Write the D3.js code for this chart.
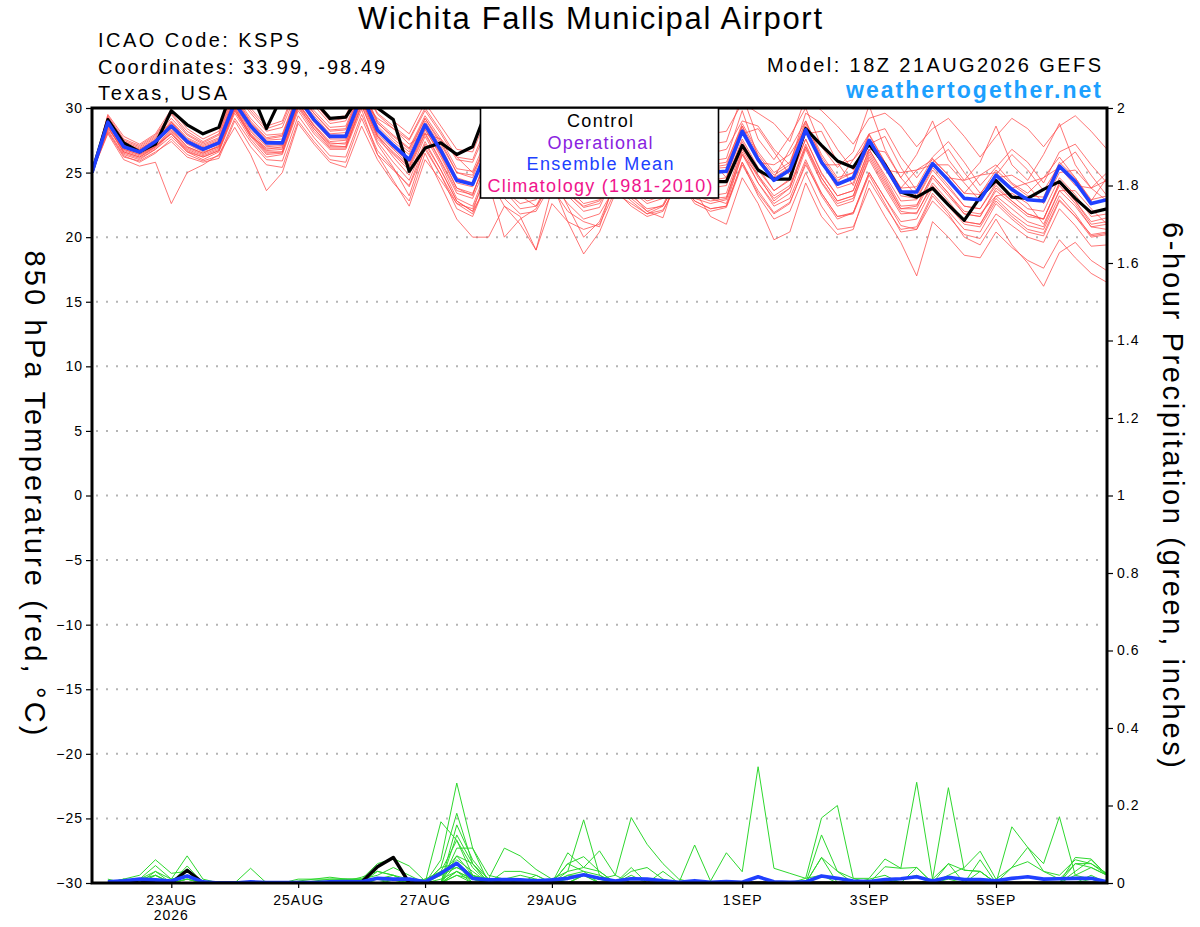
<!DOCTYPE html>
<html lang="en">
<head>
<meta charset="UTF-8">
<title>GEFS meteogram KSPS</title>
<script src="https://d3js.org/d3.v7.min.js"></script>
<style>
  body { margin: 0; background: #fff; }
  text { font-family: "Liberation Sans", Arial, Helvetica, sans-serif; }
</style>
</head>
<body>
<svg width="1200" height="927"></svg>
<script>
// run start, 6-hourly steps
var runStart = Date.UTC(2026, 7, 21, 18);
var stepHours = 6;

// tick labels
var dayTicks = [Date.UTC(2026,7,23), Date.UTC(2026,7,25), Date.UTC(2026,7,27), Date.UTC(2026,7,29),
                Date.UTC(2026,8,1), Date.UTC(2026,8,3), Date.UTC(2026,8,5)];
var tempTicks = [-30, -25, -20, -15, -10, -5, 0, 5, 10, 15, 20, 25, 30];
var precipTicks = [0, 0.2, 0.4, 0.6, 0.8, 1, 1.2, 1.4, 1.6, 1.8, 2];
var legendItems = ["Control", "Operational", "Ensemble Mean", "Climatology (1981-2010)"];

// 850 hPa temperature, control run
var controlTemp = [25.0,29.1,27.3,26.6,27.2,29.8,28.7,28.0,28.5,
  32.0,31.4,28.4,31.0,31.5,30.6,29.2,29.3,
  31.2,30.0,29.1,25.1,26.9,27.3,26.4,27.0,
  30.2,27.5,26.0,26.2,27.8,25.8,24.9,25.0,
  26.5,25.0,24.0,24.3,26.2,24.8,24.3,24.3,
  27.1,25.2,24.5,24.5,28.4,27.1,25.9,25.4,
  27.2,25.6,23.5,23.1,23.8,22.5,21.3,23.1,
  24.4,23.1,23.0,23.7,24.3,23.0,21.9,22.2];

// 850 hPa temperature, ensemble mean
var meanTemp = [25.0,28.9,27.0,26.6,27.4,28.6,27.4,26.8,27.3,
  30.4,28.6,27.3,27.3,30.8,29.1,27.8,27.8,
  31.0,28.3,27.1,26.0,28.7,26.7,24.4,24.1,
  27.0,25.5,24.5,24.8,26.8,25.2,24.3,24.6,
  26.6,25.4,24.6,24.9,26.9,25.3,25.0,25.1,
  28.2,26.0,24.4,25.2,28.3,25.8,24.1,24.6,
  27.5,25.5,23.5,23.5,25.7,24.4,23.0,22.9,
  24.8,23.7,22.9,22.8,25.5,24.3,22.6,22.9];

// 850 hPa temperature, ensemble members
var memberTemp = [
 [25.0,29.3,27.5,27.0,27.8,29.5,28.0,27.3,27.9, 31.2,29.6,28.2,28.5,31.5,30.2,28.8,29.0, 31.8,29.5,28.4,27.5,29.8,28.0,26.0,25.8, 28.6,27.0,26.0,26.4,28.2,26.8,25.9,26.3, 28.4,27.0,26.2,26.5,28.8,27.0,26.5,26.8, 29.0,28.6,26.8,25.6,29.6,28.8,26.8,25.2, 28.0,28.4,26.2,24.6,26.2,27.4,25.8,24.0, 25.4,26.8,25.8,24.2,26.6,27.2,25.6,24.2],
 [25.0,28.2,26.3,25.8,26.5,27.6,26.4,25.9,26.3, 29.2,27.4,26.0,25.9,29.4,27.7,26.3,26.2, 29.5,26.7,25.3,23.9,26.8,24.8,22.2,21.6, 24.6,23.0,21.8,22.0,24.2,22.6,21.4,21.8, 23.9,22.8,21.8,22.1,24.4,22.8,22.2,22.4, 25.8,23.6,21.9,22.7,25.6,23.4,21.6,21.9, 25.0,23.0,20.9,20.6,22.8,21.6,20.2,19.9, 21.8,20.9,20.0,19.6,22.2,20.9,19.3,19.4],
 [25.0,28.0,26.0,25.5,25.8,22.6,25.0,25.6,26.4, 28.5,26.4,23.6,25.0,28.8,27.2,25.8,25.4, 28.6,26.0,24.2,22.8,26.5,24.0,21.4,20.0, 20.0,22.4,21.6,19.0,23.8,22.0,21.2,20.8, 24.5,23.4,22.0,21.5,25.2,23.8,23.0,22.6, 26.4,24.8,22.8,23.8,27.0,24.3,22.6,23.0, 26.0,23.8,21.8,21.9,24.0,22.6,21.2,21.0, 23.0,21.8,20.9,20.6,23.2,21.8,20.1,20.3],
 [25.0,29.0,27.2,26.8,27.5,28.9,27.6,27.0,27.5, 30.8,28.9,27.6,27.8,31.2,29.6,28.2,28.3, 31.4,28.8,27.8,26.8,29.2,27.2,25.0,24.6, 27.6,26.2,25.4,25.6,27.8,26.0,25.0,25.3, 27.4,26.0,25.2,25.5,27.6,26.0,25.6,25.8, 28.6,25.8,25.6,26.4,28.4,25.6,25.6,26.0, 27.4,25.2,25.0,25.2,25.6,24.6,24.4,24.8, 25.0,23.8,24.2,24.6,25.4,24.0,23.8,24.4],
 [25.0,28.6,26.6,26.2,26.9,28.2,26.9,26.4,26.9, 30.0,28.0,26.6,26.6,30.2,28.4,27.1,27.0, 30.4,27.6,26.4,25.2,28.0,25.8,23.4,23.0, 26.0,24.6,23.6,23.8,25.8,24.2,23.4,23.6, 25.7,24.4,23.6,23.9,26.0,24.6,24.2,24.4, 27.6,25.4,23.6,24.5,27.6,24.9,23.2,23.6, 26.8,24.6,22.4,22.5,24.8,23.4,22.0,21.8, 23.2,23.4,22.6,21.0,23.6,23.6,22.2,21.0],
 [25.0,29.5,27.8,27.2,28.0,29.9,28.4,27.6,28.2, 31.6,30.0,28.6,29.0,32.0,30.6,29.2,29.4, 32.2,30.0,29.0,28.0,30.4,28.6,26.8,26.6, 29.6,28.0,27.2,27.4,29.6,28.0,27.2,27.4, 29.8,28.4,27.6,27.9,30.2,28.6,28.0,28.2, 30.4,29.6,28.8,27.4,30.8,29.8,28.6,27.2, 29.2,29.6,28.6,27.0,28.4,29.2,27.8,26.2, 27.8,29.2,28.4,27.0,28.6,29.4,28.2,26.8],
 [25.0,28.4,26.8,26.4,27.1,28.0,26.6,26.2,26.7, 29.8,27.8,26.9,26.9,30.3,28.6,27.2,27.3, 30.6,27.8,26.6,25.5,28.3,26.4,23.8,23.2, 26.8,25.2,24.0,24.3,26.4,24.7,23.6,24.0, 26.2,25.0,24.1,24.4,26.6,24.8,24.4,24.6, 28.4,26.2,24.6,25.4,28.6,25.8,23.8,24.2, 27.6,25.4,23.2,23.0,25.4,24.0,22.4,22.2, 24.0,22.8,21.8,21.4,24.0,22.6,20.8,20.6],
 [25.0,28.7,26.9,26.5,27.2,28.5,27.2,26.6,27.0, 30.2,28.3,27.0,27.1,30.6,28.9,27.6,27.6, 30.8,28.0,26.8,25.6,28.4,26.2,23.8,23.4, 26.2,24.4,23.0,23.1,25.2,23.4,22.3,22.6, 24.8,23.2,22.2,22.4,24.6,22.8,22.2,22.4, 25.8,23.2,21.4,22.0,25.0,22.4,20.6,20.8, 23.8,21.6,19.6,17.0,21.2,20.0,18.6,18.4, 20.4,19.2,18.2,17.6,19.8,18.4,17.2,16.5],
 [25.0,28.8,26.7,26.3,27.0,28.4,27.0,26.5,27.1, 30.1,28.2,26.8,27.0,30.4,28.7,27.4,27.5, 30.6,27.9,26.5,25.4,28.1,25.9,23.6,23.3, 26.4,24.8,23.8,24.0,26.0,24.4,23.5,23.7, 25.6,24.0,23.0,23.3,25.4,23.6,23.0,23.1, 26.6,24.2,22.4,23.0,26.0,23.4,21.6,21.8, 24.8,22.6,20.4,20.6,23.2,21.8,20.0,19.4, 21.4,19.4,18.0,16.2,18.8,19.6,18.2,17.4],
 [25.0,29.2,27.4,26.9,27.7,29.2,27.9,27.2,27.7, 31.0,29.2,27.9,28.0,31.3,29.8,28.5,28.6, 31.6,29.0,27.9,26.9,29.4,27.6,25.3,25.1, 28.0,26.6,25.6,25.9,28.0,26.4,25.5,25.7, 27.0,27.4,26.2,25.0,27.0,27.6,26.0,24.6, 28.0,28.4,26.6,24.8,28.0,28.2,25.8,24.0, 27.2,27.8,25.4,23.6,25.8,26.8,25.0,23.4, 24.8,26.4,25.2,23.6,25.6,26.6,24.8,23.2],
 [25.0,28.3,26.4,26.0,26.8,27.8,26.6,26.0,26.6, 29.6,27.6,26.2,26.4,29.8,28.0,26.8,26.8, 29.9,26.4,24.4,22.4,26.0,24.4,22.6,22.2, 25.2,23.6,22.6,22.9,25.0,23.2,22.0,22.3, 25.0,23.6,22.6,23.0,25.6,23.8,23.2,23.4, 27.0,24.8,23.2,24.0,27.2,24.6,22.8,23.2, 26.4,24.2,22.2,22.2,24.6,23.2,21.8,21.6, 23.6,22.6,21.6,21.4,24.2,22.8,21.2,21.5],
 [25.0,29.1,27.1,26.7,27.4,28.8,27.5,26.9,27.4, 30.6,28.7,27.4,27.4,30.9,29.2,27.9,27.9, 30.6,29.2,28.4,27.2,28.0,27.6,26.2,25.0, 27.2,25.8,24.9,25.2,27.2,25.6,24.7,25.0, 27.0,25.7,24.9,25.2,27.2,25.6,25.3,25.4, 28.6,26.4,24.8,25.6,28.8,26.2,24.4,25.0, 27.9,25.8,23.8,23.9,26.1,24.8,23.4,23.3, 25.2,24.1,23.2,23.1,25.8,24.6,22.9,23.2],
 [25.0,28.5,26.6,26.2,27.0,28.0,26.8,26.3,26.8, 29.9,27.9,26.5,26.6,30.1,28.4,27.0,27.0, 30.2,27.2,25.4,23.2,27.0,24.8,22.6,21.8, 24.6,22.4,21.0,19.0,22.6,21.2,20.6,21.0, 23.6,22.4,21.6,22.0,24.4,22.6,22.0,22.3, 25.6,23.4,21.8,22.6,25.8,23.2,21.4,21.9, 25.0,23.0,21.2,21.4,23.8,22.4,21.0,20.8, 22.8,21.6,20.6,20.3,22.9,21.6,20.2,20.4],
 [25.0,28.9,27.0,26.5,27.2,28.7,27.3,26.7,27.2, 30.4,28.5,27.1,27.2,30.7,29.0,27.7,27.8, 31.0,28.2,26.9,25.8,28.6,26.4,24.2,23.9, 26.8,24.8,23.2,22.4,24.2,21.2,18.7,20.4, 23.4,22.6,21.8,22.4,24.6,23.0,22.6,22.9, 26.4,24.2,22.6,23.4,26.8,24.2,22.4,22.8, 26.2,24.0,22.0,21.8,24.2,22.8,21.2,21.0, 23.2,22.2,21.2,20.8,23.6,22.4,20.8,21.0],
 [25.0,28.1,26.2,25.9,26.6,27.4,26.2,25.8,26.1, 29.0,27.0,25.6,25.4,29.0,27.4,26.0,25.8, 29.2,26.4,25.2,24.0,27.2,25.2,22.8,22.0, 25.4,24.0,23.2,23.3,25.4,23.8,22.6,22.9, 25.2,23.8,22.8,23.2,25.4,23.6,21.6,21.0, 24.6,22.6,19.8,20.4,24.2,21.6,20.2,20.6, 24.4,22.4,20.6,20.8,23.4,22.0,20.6,20.4, 22.6,21.4,20.4,20.1,22.8,21.6,20.0,20.2],
 [25.0,29.4,27.6,27.1,27.9,29.6,28.2,27.4,28.0, 31.4,29.8,28.4,28.8,31.8,30.4,29.0,29.2, 32.0,29.6,28.6,27.6,30.0,28.2,26.2,26.0, 29.0,27.4,26.5,26.8,28.8,27.2,26.4,26.7, 28.8,27.6,26.8,27.0,29.4,27.8,27.2,27.4, 31.0,27.6,26.0,27.8,30.0,27.0,25.4,26.6, 30.2,26.8,24.6,26.4,29.0,26.0,24.4,25.8, 28.6,25.6,24.4,26.4,28.8,25.6,23.8,25.0],
 [25.0,28.8,26.8,26.4,27.0,28.3,27.0,26.5,27.0, 30.0,28.0,26.7,26.8,30.4,28.6,27.3,27.2, 30.6,27.8,26.2,24.8,27.8,25.6,23.0,22.4, 25.6,23.6,22.2,22.4,24.8,22.4,20.0,21.2, 24.2,23.0,22.0,22.5,25.0,23.2,22.8,23.0, 26.8,24.6,23.0,23.8,27.0,24.6,22.8,23.2, 26.6,24.4,22.2,22.4,24.8,23.4,21.8,21.6, 23.8,22.8,21.8,21.4,24.2,22.8,21.0,21.2],
 [25.0,29.0,27.1,26.6,27.4,28.9,27.5,26.9,27.4, 30.7,28.8,27.5,27.6,31.0,29.4,28.0,28.1, 31.3,28.6,27.4,26.4,29.0,27.0,24.6,24.2, 27.4,26.0,25.1,25.4,27.4,25.8,24.9,25.1, 27.2,25.9,25.1,25.4,27.4,25.8,25.4,25.6, 28.8,26.6,25.0,25.8,29.0,26.4,24.6,25.0, 26.8,26.6,24.6,23.2,25.6,25.6,24.2,22.8, 24.6,24.8,24.0,22.6,25.0,25.2,23.8,22.8],
 [25.0,28.6,26.5,26.1,26.8,28.1,26.7,26.2,26.7, 29.8,27.8,26.4,26.5,30.0,28.2,26.9,26.9, 30.2,27.4,25.8,24.4,27.4,25.2,22.8,22.0, 24.2,20.0,21.4,22.2,24.6,23.4,22.4,22.8, 25.0,23.8,23.0,23.4,25.8,24.2,23.8,24.0, 27.4,25.2,23.6,24.4,27.6,25.0,23.2,23.6, 26.8,24.8,22.8,22.9,25.2,23.8,22.4,22.2, 24.2,23.2,22.2,22.0,24.6,23.3,21.6,21.8],
 [25.0,29.2,27.3,26.8,27.6,29.0,27.7,27.1,27.6, 30.9,29.0,27.7,27.9,31.1,29.6,28.3,28.4, 31.5,28.9,27.6,26.6,29.2,27.4,25.0,24.8, 27.8,26.4,25.3,25.6,27.6,26.0,25.1,25.4, 27.6,26.3,25.5,25.8,27.9,26.3,25.9,26.1, 29.8,26.2,24.6,26.8,29.0,26.0,24.2,26.0, 28.0,25.8,23.8,25.2,26.0,24.8,23.4,24.8, 25.6,24.2,23.4,24.6,26.2,24.6,22.8,24.6]
];

// 6-hour precipitation (inches), steps 1..64
var controlPrecip = [0,0,.008,0,0,.033,0,0, 0,0,0,0,0,0,0,0, .002,.042,.066,0,0,0,0,0, 0,0,0,0,0,0,0,0,
  0,0,0,0,0,0,0,0, 0,0,0,0,0,0,0,0, 0,0,0,0,0,0,0,0, 0,0,0,0,0,0,0,0];
var meanPrecip = [.003,.006,.01,.008,.005,.018,.003,0, 0,.003,.001,.001,.001,.001,.003,.004,
  .003,.012,.01,.01,.003,.025,.051,.012, .008,.009,.008,.006,.008,.012,.021,.012,
  .005,.011,.01,.006,.002,.006,.002,.004, .002,.016,.003,.002,.003,.018,.012,.005,
  .004,.009,.011,.016,.005,.015,.009,.009, .006,.012,.016,.01,.011,.012,.012,.003];
var memberPrecip = [
 [0,.01,0,.02,0,.01,0,0, 0,0,0,0,0,0,0,0, 0,.01,.02,.01,0,.03,.05,.02, 0,0,0,0,0,.01,.02,0, 0,.03,.04,.01,0,.098,.005,.078, .029,.3,.038,.025,.012,.02,0,0, 0,0,0,0,0,0,0,0, 0,0,0,0,0,0,.01,0],
 [0,.01,.02,.06,.025,.03,0,0, 0,0,0,0,.005,.01,.01,.01, .01,.02,.04,.02,0,.06,.258,.09, .02,.01,0,0,0,0,.02,.01, 0,0,0,0,0,0,0,0, 0,0,0,0,0,.066,.03,.012, .012,.062,.038,.04,0,0,0,0, 0,0,0,0,0,.02,.04,.02],
 [0,0,.01,.045,.01,.07,.01,0, 0,0,0,0,0,0,0,.005, .015,.03,.02,0,0,.04,.18,.05, 0,.03,.03,.02,0,.05,.068,.03, 0,.04,0,0,0,0,0,0, 0,0,0,0,0,0,0,0, 0,.042,.038,.26,.01,.05,.033,.03, 0,0,0,0,0,0,0,0],
 [0,0,0,.03,0,.044,0,0, 0,.038,0,0,0,0,0,0, 0,0,0,0,0,0,.15,.06, .01,.09,.07,.035,.01,0,0,0, 0,0,0,0,0,0,0,0, 0,0,0,0,0,0,0,0, 0,0,0,0,0,0,0,0, 0,0,0,0,0,0,0,0],
 [0,0,0,0,0,.02,0,0, 0,0,0,0,0,.005,.01,.01, 0,0,.01,0,0,0,.124,.05, 0,0,0,0,.01,.03,.163,.02, 0,0,0,0,0,0,0,0, 0,0,0,0,0,0,0,0, 0,0,0,0,0,0,0,0, 0,0,0,0,0,.066,.062,.02],
 [0,0,.005,0,0,.01,0,0, 0,0,0,0,0,0,0,.005, .01,.01,0,0,.01,.03,.11,.02, 0,0,0,0,0,0,.02,.01, .02,.169,.1,.05,.01,0,0,0, 0,0,0,0,0,0,0,0, 0,0,0,.04,0,0,0,0, 0,0,0,0,0,0,0,0],
 [0,0,0,0,0,0,0,0, 0,0,0,0,0,0,0,0, 0,0,0,0,0,.02,.07,.02, 0,0,0,0,0,.078,.04,.083, .02,0,0,0,0,0,0,0, 0,0,0,0,.012,.168,.2,.012, 0,0,0,0,0,0,0,0, 0,0,0,0,0,0,0,0],
 [0,0,0,0,0,0,0,0, 0,0,0,0,0,0,0,0, 0,0,0,.01,0,0,.03,0, 0,0,0,0,0,.05,.03,0, 0,0,0,0,0,0,0,0, 0,0,0,0,0,.124,.03,0, 0,0,0,0,.01,.246,.033,.03, 0,0,0,0,0,0,0,0],
 [0,0,0,0,0,0,0,0, 0,0,0,0,0,0,0,0, 0,0,0,0,0,0,.05,0, 0,0,0,0,0,0,0,0, 0,0,0,0,0,0,0,0, 0,0,0,0,0,.066,0,0, 0,0,0,0,0,0,0,.03, 0,.145,.092,.05,.171,.02,.01,0],
 [0,.01,0,.01,0,0,0,0, 0,0,0,0,0,0,0,0, 0,0,0,0,0,0,.03,.01, 0,0,0,0,0,0,0,0, 0,0,0,0,0,0,0,0, 0,0,0,0,0,0,0,0, 0,0,0,0,0,.02,.04,.082, .01,.04,.092,.03,.02,.06,.05,.025],
 [0,0,0,.02,0,.02,0,0, 0,0,0,0,.01,.01,.015,.01, .01,.05,.063,.044,.005,.02,.04,.02, 0,.01,.02,.01,0,0,.02,0, 0,0,0,0,0,0,0,0, 0,0,0,0,0,0,0,0, .01,.02,0,0,0,0,0,.06, 0,.04,.055,.03,.01,.05,.05,.02],
 [0,0,0,0,0,0,0,0, 0,0,0,0,0,0,0,0, 0,0,0,0,0,.158,.11,.04, 0,0,0,0,0,0,0,0, 0,0,0,0,0,0,0,0, 0,0,0,0,0,0,0,0, 0,0,0,0,0,0,0,0, 0,0,0,0,0,0,0,0],
 [0,.005,.01,.03,.01,.02,0,0, 0,0,0,0,0,0,0,0, 0,.03,.02,0,0,.04,.05,.02, .01,0,0,.02,0,.03,.04,.03, 0,0,0,.03,0,0,0,0, 0,0,0,0,0,0,0,0, 0,0,0,0,0,.05,0,0, 0,0,0,0,0,.05,.04,.02],
 [0,0,0,0,0,.03,0,0, 0,0,0,0,0,0,0,0, 0,0,0,0,0,0,.07,.05, .01,0,0,0,0,0,0,0, 0,0,0,0,0,0,0,0, 0,0,0,0,0,0,0,0, 0,0,0,0,0,0,0,0, 0,0,0,0,0,0,0,0],
 [0,0,0,0,0,0,0,0, 0,0,0,0,0,0,0,0, 0,0,0,0,0,0,.09,.09, 0,0,0,0,0,0,0,0, 0,0,0,0,0,0,0,0, 0,0,0,0,0,0,0,0, 0,0,0,0,0,0,0,0, 0,0,0,0,0,0,0,0],
 [.01,0,0,0,0,0,0,0, 0,0,0,0,0,0,.005,.01, .01,0,0,0,0,0,.02,0, 0,0,0,0,0,0,0,0, 0,0,0,0,0,0,0,0, 0,0,0,0,0,0,0,0, 0,0,0,0,0,0,0,0, 0,0,0,0,0,0,0,0],
 [0,0,0,0,0,0,0,0, 0,0,0,0,0,0,0,0, 0,0,0,0,0,.03,.04,.02, 0,0,0,0,0,.02,.03,.02, 0,0,0,0,0,0,0,0, 0,0,0,0,0,0,0,0, 0,0,0,0,0,.01,0,0, 0,0,0,0,0,0,0,0],
 [0,0,0,0,0,0,0,0, 0,0,0,0,0,0,0,0, 0,0,0,0,0,0,.02,.01, 0,0,0,0,0,0,0,0, 0,0,0,0,0,0,0,0, 0,0,0,0,0,0,0,0, 0,0,.01,.02,0,0,0,0, 0,0,0,0,0,0,.02,0],
 [0,0,.01,.02,0,.01,0,0, 0,0,0,0,0,0,0,0, 0,0,0,0,0,.01,.03,.01, 0,0,0,0,0,.02,.02,.01, 0,.02,0,0,0,0,0,0, 0,0,0,0,0,0,0,0, 0,.01,0,0,0,0,0,0, 0,0,0,0,0,.03,.06,.02],
 [0,0,0,0,0,0,0,0, 0,0,0,0,0,0,0,0, 0,0,0,0,.01,.02,.06,.03, 0,0,0,.01,0,0,0,0, 0,0,0,0,0,0,0,0, 0,0,0,0,0,0,0,0, 0,0,0,0,0,0,0,0, 0,0,0,0,0,0,0,0]
];

var plot = {left: 92, right: 1107, top: 108, bottom: 883};
var svg = d3.select("svg");

function timeAt(i) { return new Date(runStart + i * stepHours * 3600e3); }

var x = d3.scaleUtc()
    .domain([timeAt(0), timeAt(controlTemp.length - 1)])
    .range([plot.left, plot.right]);
var yT = d3.scaleLinear().domain([-30, 30]).range([plot.bottom, plot.top]);
var yP = d3.scaleLinear().domain([0, 2]).range([plot.bottom, plot.top]);

svg.append("defs").append("clipPath").attr("id", "plotclip")
  .append("rect")
  .attr("x", plot.left).attr("y", plot.top)
  .attr("width", plot.right - plot.left).attr("height", plot.bottom - plot.top);

// dotted grid lines
svg.append("g").selectAll("line")
  .data(tempTicks.filter(function (d) { return d > -30 && d < 30; }))
  .enter().append("line")
  .attr("x1", plot.left + 4).attr("x2", plot.right)
  .attr("y1", function (d) { return yT(d); }).attr("y2", function (d) { return yT(d); })
  .attr("stroke", "#b4b4b4").attr("stroke-width", 2)
  .attr("stroke-dasharray", "2,8");

var tempLine = d3.line()
  .x(function (d, i) { return x(timeAt(i)); })
  .y(function (d) { return yT(d); });
var precipLine = d3.line()
  .x(function (d, i) { return x(timeAt(i + 1)); })
  .y(function (d) { return yP(d); });

var lines = svg.append("g").attr("clip-path", "url(#plotclip)");

lines.append("g").selectAll("path")
  .data(memberTemp).enter().append("path")
  .attr("d", tempLine)
  .attr("fill", "none").attr("stroke", "#ff4a4a")
  .attr("stroke-opacity", 0.75).attr("stroke-width", 1);

lines.append("g").selectAll("path")
  .data(memberPrecip).enter().append("path")
  .attr("d", precipLine)
  .attr("fill", "none").attr("stroke", "#2ed82e").attr("stroke-width", 1);

lines.append("path").attr("d", tempLine(controlTemp))
  .attr("fill", "none").attr("stroke", "#000").attr("stroke-width", 3.2)
  .attr("stroke-linejoin", "round");
lines.append("path").attr("d", tempLine(meanTemp))
  .attr("fill", "none").attr("stroke", "#2040ff").attr("stroke-width", 3.6)
  .attr("stroke-linejoin", "round");
lines.append("path").attr("d", precipLine(controlPrecip))
  .attr("fill", "none").attr("stroke", "#000").attr("stroke-width", 3.4)
  .attr("stroke-linejoin", "round");
lines.append("path").attr("d", precipLine(meanPrecip))
  .attr("fill", "none").attr("stroke", "#2040ff").attr("stroke-width", 3.6)
  .attr("stroke-linejoin", "round");

// axes
function styleAxis(g) {
  g.selectAll("text").attr("font-size", 14).attr("fill", "#000")
    .attr("letter-spacing", 1);
  g.select(".domain").remove();
  g.selectAll(".tick line").attr("stroke", "#000").attr("stroke-width", 1.2);
}

svg.append("g").attr("transform", "translate(" + plot.left + ",0)")
  .call(d3.axisLeft(yT).tickValues(tempTicks).tickSize(6).tickPadding(3))
  .call(styleAxis);

svg.append("g").attr("transform", "translate(" + plot.right + ",0)")
  .call(d3.axisRight(yP).tickValues(precipTicks).tickSize(6).tickPadding(4)
    .tickFormat(function (d) { return String(+d.toFixed(1)); }))
  .call(styleAxis);

var dayFmt = d3.utcFormat("%-d%b");
svg.append("g").attr("transform", "translate(0," + plot.bottom + ")")
  .call(d3.axisBottom(x).tickValues(dayTicks.map(function (t) { return new Date(t); }))
    .tickSize(5).tickPadding(7)
    .tickFormat(function (d) { return dayFmt(d).toUpperCase(); }))
  .call(styleAxis);

svg.append("text").attr("x", x(new Date(dayTicks[0]))).attr("y", 920)
  .attr("text-anchor", "middle").attr("font-size", 14).attr("letter-spacing", 1)
  .text("2026");

// frame
svg.append("rect")
  .attr("x", plot.left).attr("y", plot.top)
  .attr("width", plot.right - plot.left).attr("height", plot.bottom - plot.top)
  .attr("fill", "none").attr("stroke", "#000").attr("stroke-width", 3);

// legend
var legendColors = ["#000000", "#8a22e0", "#2040ff", "#f0148c"];
var legendWidths = [66, 105, 147, 225];
svg.append("rect").attr("x", 480.5).attr("y", 108).attr("width", 238).attr("height", 90)
  .attr("fill", "#fff").attr("stroke", "#000").attr("stroke-width", 1.6);
svg.append("g").selectAll("text")
  .data(legendItems).enter().append("text")
  .attr("x", 600)
  .attr("y", function (d, i) { return 127 + i * 21.6; })
  .attr("text-anchor", "middle").attr("font-size", 18)
  .attr("textLength", function (d, i) { return legendWidths[i]; })
  .attr("lengthAdjust", "spacing")
  .attr("fill", function (d, i) { return legendColors[i]; })
  .text(function (d) { return d; });

// titles
svg.append("text").attr("x", 590).attr("y", 29).attr("text-anchor", "middle")
  .attr("font-size", 31).attr("textLength", 464).attr("lengthAdjust", "spacing")
  .text("Wichita Falls Municipal Airport");

var info = ["ICAO Code: KSPS", "Coordinates: 33.99, -98.49", "Texas, USA"];
var infoWidths = [201, 287, 129];
svg.append("g").selectAll("text").data(info).enter().append("text")
  .attr("x", 98).attr("y", function (d, i) { return 47 + i * 26.5; })
  .attr("font-size", 20)
  .attr("textLength", function (d, i) { return infoWidths[i]; })
  .attr("lengthAdjust", "spacing")
  .text(function (d) { return d; });

svg.append("text").attr("x", 1101).attr("y", 72).attr("text-anchor", "end")
  .attr("font-size", 20).attr("textLength", 334).attr("lengthAdjust", "spacing")
  .text("Model: 18Z 21AUG2026 GEFS");
svg.append("text").attr("x", 1101).attr("y", 98).attr("text-anchor", "end")
  .attr("font-size", 23).attr("font-weight", "bold").attr("fill", "#1ca0ff")
  .attr("textLength", 255).attr("lengthAdjust", "spacing")
  .text("weathertogether.net");

svg.append("text").attr("transform", "translate(25,493) rotate(90)")
  .attr("text-anchor", "middle").attr("font-size", 29)
  .attr("textLength", 485).attr("lengthAdjust", "spacing")
  .text("850 hPa Temperature (red, °C)");
svg.append("text").attr("transform", "translate(1163,495) rotate(90)")
  .attr("text-anchor", "middle").attr("font-size", 29)
  .attr("textLength", 546).attr("lengthAdjust", "spacing")
  .text("6-hour Precipitation (green, inches)");
</script>
</body>
</html>
